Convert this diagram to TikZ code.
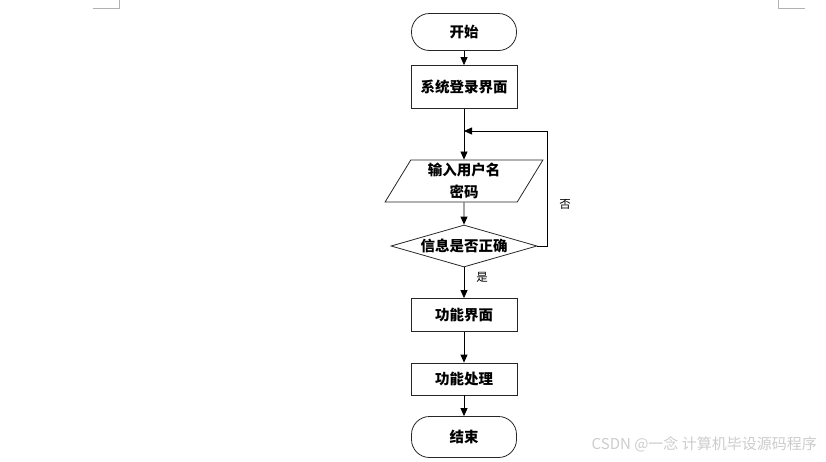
\documentclass[tikz,border=0pt]{standalone}
\usepackage{fontspec}
\usepackage{tikz}
\usetikzlibrary{arrows.meta,positioning,calc,shapes.geometric}
\newfontfamily\cjk{Noto Sans CJK SC}
\newcommand{\mainfont}{\cjk\bfseries\fontsize{14.5}{22}\selectfont}
\newcommand{\smallfont}{\cjk\fontsize{11.5}{13}\selectfont}

\begin{document}
\begin{tikzpicture}[x=1pt, y=-1pt, >={Triangle[length=8pt,width=7pt]},
  flow/.style={draw=black!85, line width=0.8pt},
  terminal/.style={flow, rectangle, rounded corners=18pt, minimum width=105pt,
    minimum height=37pt, font=\mainfont, inner sep=0pt},
  procbox/.style={flow, rectangle, minimum width=106pt, minimum height=33pt,
    font=\mainfont, inner sep=0pt},
  iobox/.style={flow, trapezium, trapezium left angle=64, trapezium right angle=116,
    trapezium stretches=true, minimum width=158pt, minimum height=42pt,
    font=\mainfont, align=center, inner sep=0pt},
  decision/.style={flow, diamond, aspect=3.5, minimum width=146pt,
    minimum height=42pt, font=\mainfont, inner sep=0pt},
  link/.style={draw=black, line width=0.8pt, ->},
  branch/.style={font=\smallfont, inner sep=0pt}]
  % page frame
  \useasboundingbox (0,0) rectangle (826,461);
  % page corner marks
  \draw[black!30, line width=0.6pt] (93,8) -- (119,8) -- (119,0);
  \draw[black!30, line width=0.6pt] (805,8) -- (778,8) -- (778,0);
  % flow nodes
  \node[terminal] (start) at (464,32) {开始};
  \node[procbox, minimum height=43pt] (login) at (464,87) {系统登录界面};
  \node[iobox] (input) at (464,181) {输入用户名\\密码};
  \node[decision] (check) at (464,246) {信息是否正确};
  \node[procbox] (funcui) at (464,315) {功能界面};
  \node[procbox, minimum height=32pt] (funcproc) at (464,379) {功能处理};
  \node[terminal, minimum height=41pt] (stop) at (464,437) {结束};
  % loop points
  \coordinate (join) at (464,131);
  \coordinate (loopR) at (547,246);
  % connectors
  \draw[link] (start) -- (login);
  \draw[link] (login) -- (input);
  \draw[link] (input) -- (check);
  \draw[link] (check) -- (funcui);
  \draw[link] (funcui) -- (funcproc);
  \draw[link] (funcproc) -- (stop);
  \draw[link] (check.east) -- (loopR) |- (join);
  % branch labels
  \node[branch] (no) at (565,204) {否};
  \node[branch] (yes) at (482,277) {是};
  % watermark
  \node[font=\cjk\fontsize{15}{16}\selectfont, text=black!20, anchor=east, inner sep=0pt]
    (mark) at (817,444) {CSDN @一念 计算机毕设源码程序};
\end{tikzpicture}
\end{document}
